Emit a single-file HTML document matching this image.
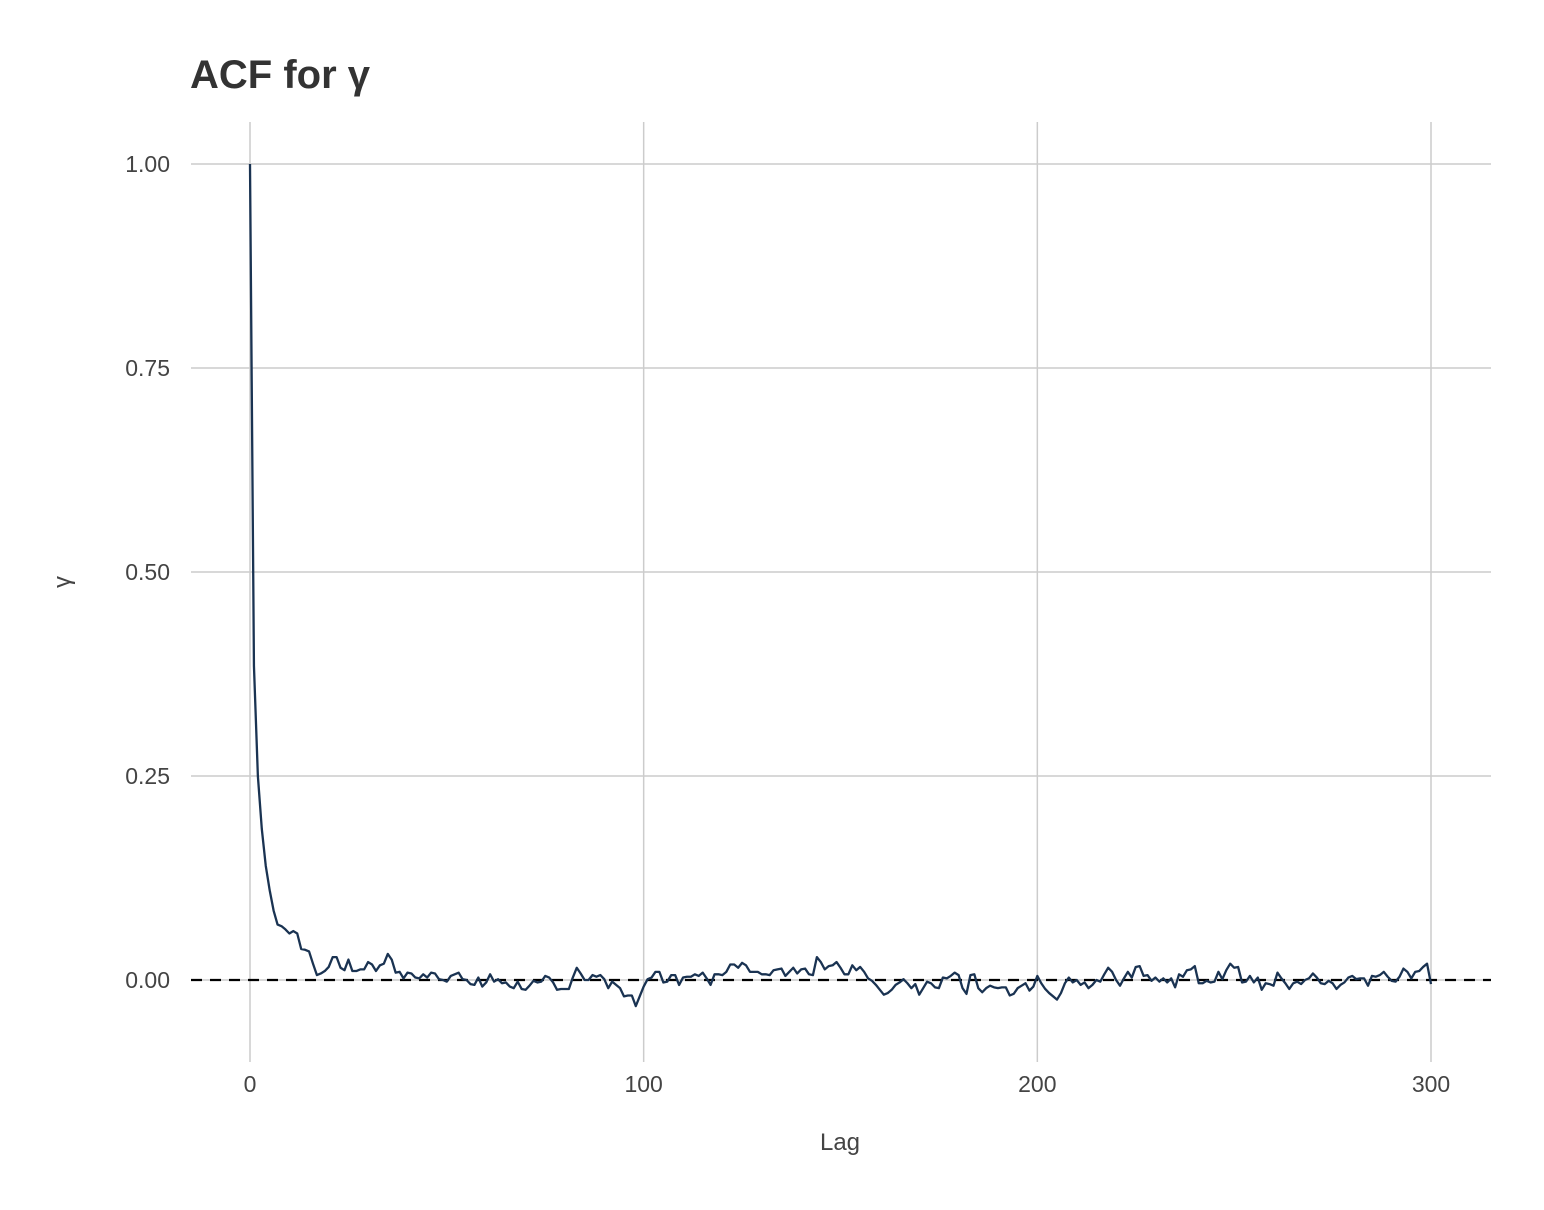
<!DOCTYPE html>
<html><head><meta charset="utf-8"><style>
html,body{margin:0;padding:0;background:#fff;}
svg{display:block;font-family:"Liberation Sans","DejaVu Sans",sans-serif;}
</style></head><body>
<svg id="chart" width="1544" height="1210"></svg>
<script>
const lags=[];for(let i=0;i<=300;i++)lags.push(i);
const acf=[
1.0,0.385,0.25,0.185,0.14,0.11,0.085,0.068,0.066,0.062,
0.057,0.06,0.057,0.038,0.037,0.035,0.02,0.006,0.008,0.011,
0.016,0.028,0.028,0.015,0.012,0.025,0.011,0.011,0.013,0.013,
0.022,0.019,0.011,0.018,0.02,0.032,0.025,0.009,0.01,0.002,
0.009,0.008,0.003,0.002,0.007,0.003,0.009,0.008,0.001,0,
-0.002,0.005,0.007,0.009,0.001,0,-0.005,-0.006,0.003,-0.008,
-0.003,0.007,-0.002,0.001,-0.004,-0.003,-0.008,-0.01,-0.002,-0.011,
-0.012,-0.007,-0.001,-0.003,-0.002,0.005,0.003,-0.003,-0.012,-0.011,
-0.011,-0.011,0.003,0.015,0.008,0,0,0.006,0.004,0.006,
0.001,-0.01,-0.002,-0.006,-0.01,-0.02,-0.019,-0.019,-0.032,-0.02,
-0.008,0.001,0.003,0.01,0.01,-0.003,-0.002,0.006,0.006,-0.006,
0.003,0.004,0.004,0.007,0.005,0.009,0.002,-0.006,0.007,0.007,
0.006,0.01,0.019,0.019,0.015,0.021,0.018,0.01,0.01,0.01,
0.007,0.007,0.006,0.012,0.013,0.014,0.005,0.01,0.015,0.008,
0.013,0.014,0.007,0.006,0.028,0.022,0.013,0.017,0.018,0.022,
0.015,0.007,0.007,0.018,0.012,0.016,0.01,0.002,-0.001,-0.006,
-0.012,-0.018,-0.016,-0.012,-0.006,-0.003,0.001,-0.004,-0.01,-0.005,
-0.018,-0.01,-0.002,-0.004,-0.009,-0.01,0.003,0.002,0.005,0.009,
0.006,-0.01,-0.017,0.006,0.007,-0.01,-0.015,-0.01,-0.007,-0.009,
-0.01,-0.009,-0.009,-0.019,-0.017,-0.01,-0.007,-0.004,-0.013,-0.008,
0.005,-0.004,-0.011,-0.016,-0.02,-0.024,-0.016,-0.004,0.003,-0.003,
0,-0.006,-0.003,-0.01,-0.006,0,-0.002,0.007,0.015,0.01,
0,-0.007,0.002,0.01,0.003,0.016,0.017,0.005,0.006,-0.001,
0.003,-0.002,0.002,-0.003,0.002,-0.009,0.007,0.004,0.012,0.013,
0.017,-0.004,-0.004,-0.001,-0.003,-0.002,0.01,0.001,0.012,0.02,
0.015,0.016,-0.003,-0.002,0.005,-0.003,0.003,-0.012,-0.004,-0.005,
-0.007,0.009,0.002,-0.004,-0.011,-0.004,-0.002,-0.005,0,0.002,
0.008,0.003,-0.004,-0.005,-0.001,-0.004,-0.011,-0.006,-0.003,0.003,
0.005,0.001,0.002,0.002,-0.007,0.005,0.004,0.006,0.01,0.004,
-0.001,-0.002,0.004,0.014,0.01,0.002,0.01,0.011,0.016,0.02,
-0.005];
const xTicks=[0,100,200,300];
const yTicks=[0,0.25,0.5,0.75,1.0];
const yTickLabels=["0.00","0.25","0.50","0.75","1.00"];
const X=v=>250+v*(1431-250)/300;
const Y=v=>980-v*816;
const NS="http://www.w3.org/2000/svg";
const svg=document.getElementById('chart');
function mk(t,a,p){const e=document.createElementNS(NS,t);for(const k in a)e.setAttribute(k,a[k]);(p||svg).appendChild(e);return e;}
yTicks.forEach((v,i)=>{
  const l=mk('line',{x1:191,x2:1491,y1:Y(v),y2:Y(v),stroke:'#cccccc','stroke-width':1.5});
  
  
  const t=mk('text',{x:170,y:Y(v)+8,'text-anchor':'end','font-size':23,fill:'#444'});
  t.textContent=yTickLabels[i];
  
  
});
xTicks.forEach(v=>{
  const l=mk('line',{x1:X(v),x2:X(v),y1:122,y2:1062,stroke:'#cccccc','stroke-width':1.5});
  
  
  const t=mk('text',{x:X(v),y:1092,'text-anchor':'middle','font-size':23,fill:'#444'});
  t.textContent=String(v);
  
  
});
const z=mk('line',{x1:191,x2:1491,y1:Y(0),y2:Y(0),stroke:'#000','stroke-width':2.2,'stroke-dasharray':'11,8'});


const p=mk('polyline',{points:lags.map((l,i)=>X(l).toFixed(2)+','+Y(acf[i]).toFixed(2)).join(' '),fill:'none',stroke:'#1a3352','stroke-width':2.3,'stroke-linejoin':'round'});


const ti=mk('text',{x:190,y:88,'font-size':40,'font-weight':'bold',fill:'#333'});
ti.textContent='ACF for γ';


const xt=mk('text',{x:840,y:1150,'text-anchor':'middle','font-size':24,fill:'#444'});
xt.textContent='Lag';


const yt=mk('text',{x:0,y:0,'text-anchor':'middle','font-size':24,fill:'#444',transform:'translate(70,582) rotate(-90)'});
yt.textContent='γ';


</script>
</body></html>
